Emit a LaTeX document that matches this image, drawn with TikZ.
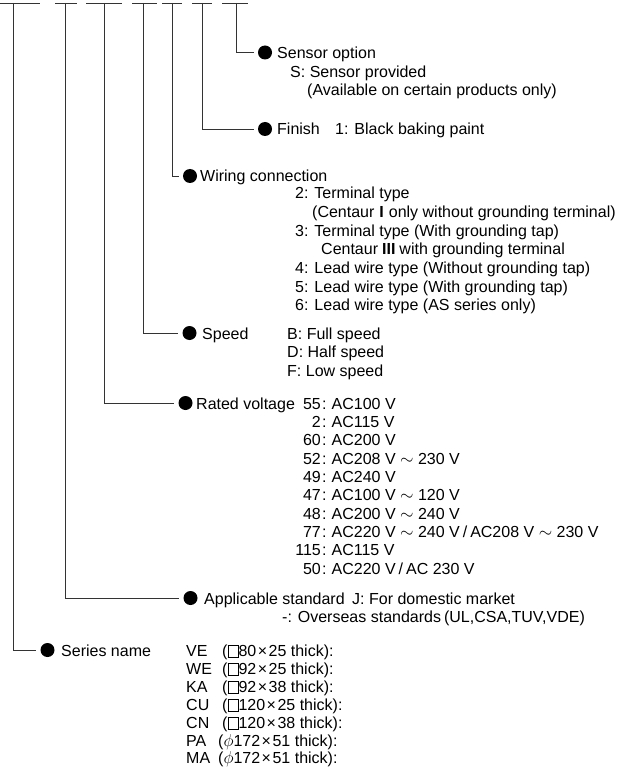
\documentclass[tikz,border=0pt]{standalone}
\usepackage{fontspec}
\setmainfont{Liberation Sans}
\newcommand\myfs{\fontsize{16}{18.5}\selectfont}
\newcommand\sqb{{\setlength{\fboxsep}{0pt}\setlength{\fboxrule}{0.5pt}\raisebox{-0.5pt}{\fbox{\rule{0pt}{11pt}\hspace{10pt}}}}}
\newcommand\wsl{\hspace{3pt}/\hspace{3pt}}
\newcommand\tms{\hspace{1.5pt}×\hspace{1.5pt}}
\begin{document}
\begin{tikzpicture}[x=1pt,y=-1pt,
  conn/.style={draw=black!80, line width=0.9pt, shorten >=4pt},
  topseg/.style={draw=black!80, line width=0.9pt},
  dot/.style={circle, fill=black, inner sep=0pt, minimum size=14pt},
  lbl/.style={anchor=base west, inner sep=0pt, font=\myfs},
  num/.style={anchor=base east, inner sep=0pt, font=\myfs}]
\useasboundingbox (0,0) rectangle (642,767);

% top dashes
\foreach \a/\b in {0/40,55/77,86/122,132/157,162/182,192/212,222/248}
  \draw[topseg] (\a,3) -- (\b,3);

% top coordinates
\coordinate (tSe) at (13,3);
\coordinate (tAp) at (65,3);
\coordinate (tRv) at (104,3);
\coordinate (tSp) at (143,3);
\coordinate (tWi) at (172,3);
\coordinate (tFi) at (202,3);
\coordinate (tSo) at (236,3);

% bullets
\node[dot] (bSo) at (265,52.5) {};
\node[dot] (bFi) at (265,129) {};
\node[dot] (bWi) at (190,176) {};
\node[dot] (bSp) at (189.5,333) {};
\node[dot] (bRv) at (185.5,403) {};
\node[dot] (bAp) at (190.5,598) {};
\node[dot] (bSe) at (47.5,650) {};

% connectors
\draw[conn] (tSo) |- (bSo.west);
\draw[conn] (tFi) |- (bFi.west);
\draw[conn] (tWi) |- (bWi.west);
\draw[conn] (tSp) |- (bSp.west);
\draw[conn] (tRv) |- (bRv.west);
\draw[conn] (tAp) |- (bAp.west);
\draw[conn] (tSe) |- (bSe.west);

% Sensor option
\node[lbl] (lSo) at (277,58.5) {Sensor option};
\node[lbl] (lSo1) at (290,77.5) {S: Sensor provided};
\node[lbl] (lSo2) at (307,96) {(Available on certain products only)};

% Finish
\node[lbl] (lFi) at (277,135) {Finish};
\node[lbl] (lFi1) at (335,135) {1: Black baking paint};

% Wiring connection
\node[lbl] (lWi) at (200,182) {Wiring connection};
\foreach \x/\t [count=\i from 0] in {
  295/{2: Terminal type},
  312/{(Centaur\hspace{5pt}{\bfseries I}\hspace{5pt}only without grounding terminal)},
  295/{3: Terminal type (With grounding tap)},
  321/{Centaur\hspace{4pt}{\bfseries III}\hspace{4pt}with grounding terminal},
  295/{4: Lead wire type (Without grounding tap)},
  295/{5: Lead wire type (With grounding tap)},
  295/{6: Lead wire type (AS series only)}}
  \node[lbl] (lWi\i) at (\x,199+18.6*\i) {\t};

% Speed
\node[lbl] (lSp) at (202,339) {Speed};
\foreach \t [count=\i from 0] in {B: Full speed, D: Half speed, F: Low speed}
  \node[lbl] (lSp\i) at (287,339+18.5*\i) {\t};

% Rated voltage
\node[lbl] (lRv) at (196,409) {Rated voltage};
\foreach \n/\t [count=\i from 0] in {
  55/{AC100 V},
  2/{AC115 V},
  60/{AC200 V},
  52/{AC208 V $\sim$ 230 V},
  49/{AC240 V},
  47/{AC100 V $\sim$ 120 V},
  48/{AC200 V $\sim$ 240 V},
  77/{AC220 V $\sim$ 240 V\wsl AC208 V $\sim$ 230 V},
  115/{AC115 V},
  50/{AC220 V\wsl AC 230 V}} {
  \node[num] (nRv\i) at (321,409+18.35*\i) {\n};
  \node[lbl] (tRv\i) at (322,409+18.35*\i) {:\hspace{5pt}\t};
}

% Applicable standard
\node[lbl] (lAp) at (204,604) {Applicable standard};
\node[lbl] (lAp1) at (352,604) {J: For domestic market};
\node[lbl] (lAp2) at (282,622) {-: Overseas standards\hspace{3pt}(UL,CSA,TUV,VDE)};

% Series name
\node[lbl] (lSe) at (61,656) {Series name};
\foreach \c/\x/\t/\y [count=\i from 0] in {
  VE/222/{(\sqb 80\tms 25 thick):}/656,
  WE/222/{(\sqb 92\tms 25 thick):}/674,
  KA/222/{(\sqb 92\tms 38 thick):}/692,
  CU/222/{(\sqb 120\tms 25 thick):}/710,
  CN/222/{(\sqb 120\tms 38 thick):}/728,
  PA/218/{($\phi$172\tms 51 thick):}/746,
  MA/218/{($\phi$172\tms 51 thick):}/763} {
  \node[lbl] (cSe\i) at (186,\y) {\c};
  \node[lbl] (dSe\i) at (\x,\y) {\t};
}
\end{tikzpicture}
\end{document}
